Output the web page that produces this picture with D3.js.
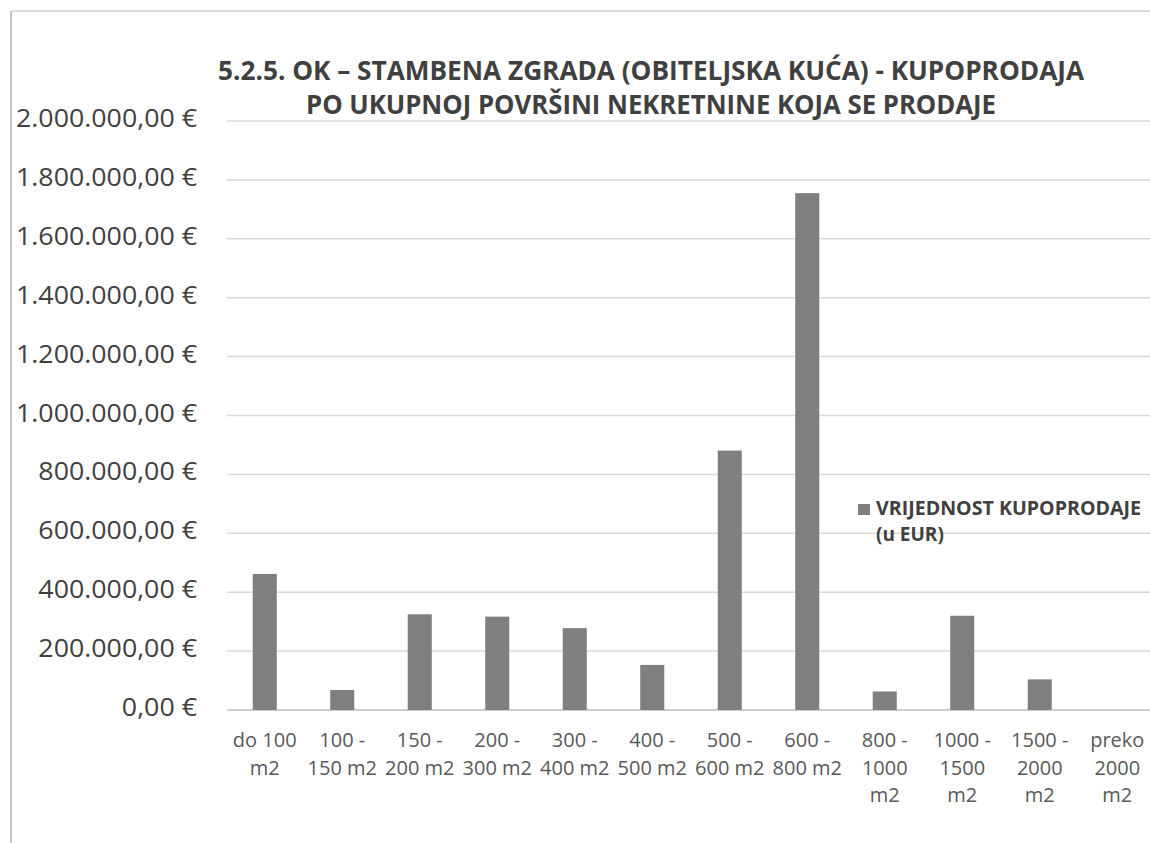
<!DOCTYPE html>
<html>
<head>
<meta charset="utf-8">
<script src="https://cdn.jsdelivr.net/npm/d3@7"></script>
<style>
  html, body { margin: 0; padding: 0; background: #fff; }
  svg { display: block; font-family: "Open Sans", "Noto Sans", sans-serif; }
</style>
</head>
<body>
<svg id="chart" width="1150" height="843"></svg>
<script>
// ---- data ----
const titleLines = [
  "5.2.5. OK – STAMBENA ZGRADA (OBITELJSKA KUĆA) - KUPOPRODAJA",
  "PO UKUPNOJ POVRŠINI NEKRETNINE KOJA SE PRODAJE"
];
const categories = [
  ["do 100", "m2"],
  ["100 -", "150 m2"],
  ["150 -", "200 m2"],
  ["200 -", "300 m2"],
  ["300 -", "400 m2"],
  ["400 -", "500 m2"],
  ["500 -", "600 m2"],
  ["600 -", "800 m2"],
  ["800 -", "1000", "m2"],
  ["1000 -", "1500", "m2"],
  ["1500 -", "2000", "m2"],
  ["preko", "2000", "m2"]
];
const values = [462000, 68000, 325000, 317000, 278000, 153000, 881000, 1755000, 63000, 320000, 104000, 0];
const yTicks = [0, 200000, 400000, 600000, 800000, 1000000, 1200000, 1400000, 1600000, 1800000, 2000000];
const legendLines = ["VRIJEDNOST KUPOPRODAJE", "(u EUR)"];

// ---- setup ----
const svg = d3.select("#chart");
const textColor = "#404040";
const barColor = "#7f7f7f";
const gridColor = "#d9d9d9";

const locale = d3.formatLocale({decimal: ",", thousands: ".", grouping: [3], currency: ["", " €"]});
const fmt = locale.format("$,.2f");

const idx = categories.map((d, i) => i);
const x = d3.scaleBand().domain(idx).range([226, 1156]).paddingInner(0.69).paddingOuter(0.345);
const y = d3.scaleLinear().domain([0, 2000000]).range([710, 121]);

// frame
svg.append("line").attr("x1", 11).attr("x2", 1150).attr("y1", 11).attr("y2", 11)
  .attr("stroke", "#dcdcdc").attr("stroke-width", 2);
svg.append("line").attr("x1", 11).attr("x2", 11).attr("y1", 11).attr("y2", 843)
  .attr("stroke", "#b0b0b0").attr("stroke-width", 1.5);

// gridlines
svg.append("g").selectAll("line").data(yTicks).join("line")
  .attr("x1", 227).attr("x2", 1150)
  .attr("y1", d => y(d)).attr("y2", d => y(d))
  .attr("stroke", d => d === 0 ? "#bfbfbf" : gridColor)
  .attr("stroke-width", 1.5);

// y labels
const yl = svg.append("g").selectAll("text").data(yTicks).join("text")
  .attr("x", 197).attr("y", d => y(d) - 4)
  .attr("text-anchor", "end").attr("dominant-baseline", "central")
  .attr("font-size", 25).attr("fill", textColor)
  .text(d => fmt(d));
let maxW = 0;
yl.each(function() { maxW = Math.max(maxW, this.getComputedTextLength()); });
const yScaleX = 181 / maxW;
yl.each(function() {
  const w = this.getComputedTextLength();
  d3.select(this).attr("textLength", w * yScaleX).attr("lengthAdjust", "spacingAndGlyphs");
});

// bars
svg.append("g").selectAll("rect").data(values).join("rect")
  .attr("x", (d, i) => x(i))
  .attr("width", x.bandwidth())
  .attr("y", d => y(d))
  .attr("height", d => y(0) - y(d))
  .attr("fill", barColor);

// x labels
const xl = svg.append("g").selectAll("text").data(categories).join("text")
  .attr("text-anchor", "middle")
  .attr("font-size", 20).attr("fill", "#595959");
xl.each(function(lines, i) {
  const t = d3.select(this);
  lines.forEach((ln, k) => {
    t.append("tspan").attr("x", x(i) + x.bandwidth() / 2).attr("y", 747 + k * 27.5).text(ln);
  });
});

// title
svg.append("g").selectAll("text").data(titleLines).join("text")
  .attr("x", 651).attr("y", (d, i) => 80 + i * 34)
  .attr("text-anchor", "middle")
  .attr("font-size", 26).attr("font-weight", "bold").attr("fill", textColor)
  .attr("textLength", (d, i) => i === 0 ? 866 : 690)
  .attr("lengthAdjust", "spacingAndGlyphs")
  .text(d => d);

// legend
const lg = svg.append("g");
lg.append("rect").attr("x", 858).attr("y", 504).attr("width", 12).attr("height", 11).attr("fill", barColor);
lg.selectAll("text").data(legendLines).join("text")
  .attr("x", 876).attr("y", (d, i) => 515 + i * 26)
  .attr("font-size", 19).attr("font-weight", "bold").attr("fill", textColor)
  .text(d => d)
  .each(function(d, i) {
    if (i === 0) d3.select(this).attr("textLength", 265).attr("lengthAdjust", "spacingAndGlyphs");
  });
</script>
</body>
</html>
